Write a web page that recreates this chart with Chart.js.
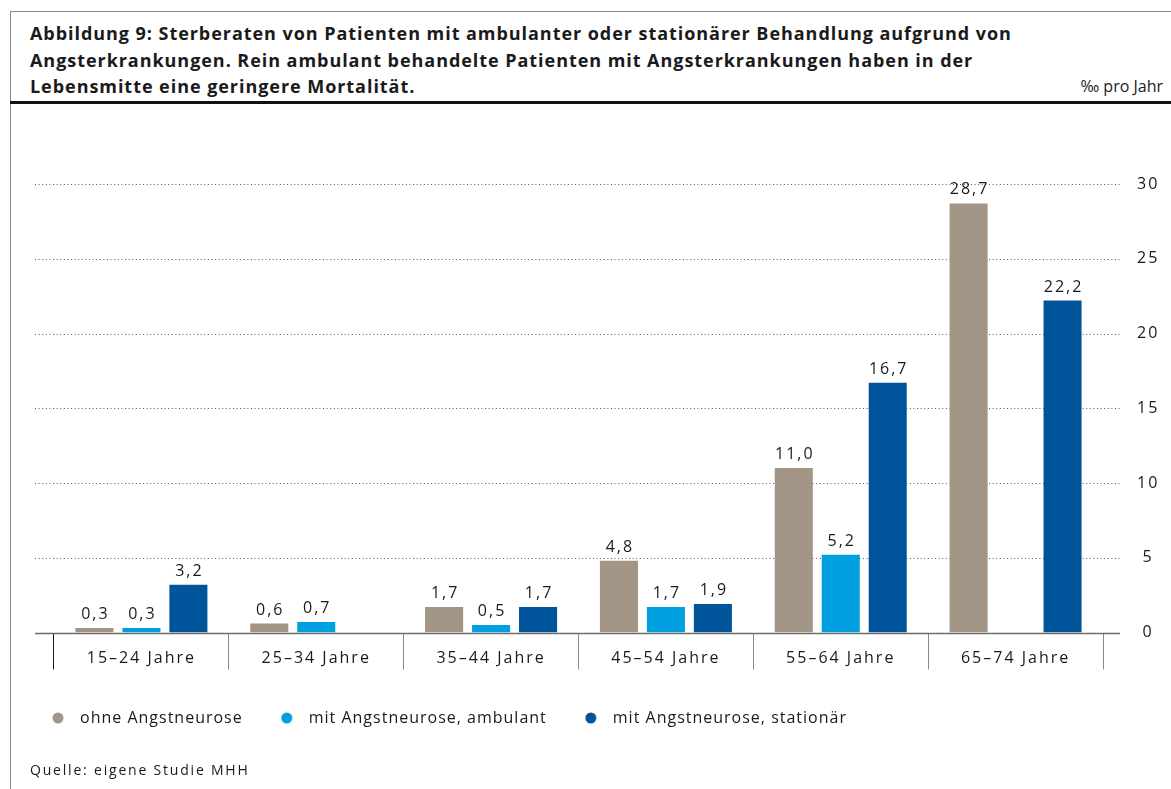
<!DOCTYPE html>
<html lang="de">
<head>
<meta charset="utf-8">
<script src="https://cdn.jsdelivr.net/npm/chart.js@4.4.1/dist/chart.umd.min.js"></script>
<style>
    html, body { margin: 0; padding: 0; background: #fff; }
    #seite { position: relative; width: 1171px; height: 789px; overflow: hidden; font-family: "Open Sans", sans-serif; color: #1a1a1a; }
    #rahmenOben { position: absolute; left: 10px; top: 11px; width: 1161px; height: 0; border-top: 1.5px solid #8a8a8a; }
    #rahmenLinks { position: absolute; left: 10px; top: 11px; width: 0; height: 778px; border-left: 1.5px solid #8a8a8a; }
    #titel { position: absolute; left: 30px; top: 20px; font-weight: bold; font-size: 18px; letter-spacing: 0.95px; line-height: 26.5px; white-space: nowrap; }
    #einheit { position: absolute; right: 8px; top: 73px; font-size: 16px; line-height: 26px; }
    #linie { position: absolute; left: 10px; top: 101px; width: 1161px; height: 3px; background: #111; }
    #grafik { position: absolute; left: 0; top: 105px; }
    #quelle { position: absolute; left: 30px; top: 760px; font-size: 14px; line-height: 20px; letter-spacing: 1.8px; }
</style>
</head>
<body>
<div id="seite">
    <div id="rahmenOben"></div>
    <div id="rahmenLinks"></div>
    <div id="titel">Abbildung 9: Sterberaten von Patienten mit ambulanter oder stationärer Behandlung aufgrund von<br>Angsterkrankungen. Rein ambulant behandelte Patienten mit Angsterkrankungen haben in der<br>Lebensmitte eine geringere Mortalität.</div>
    <div id="einheit">‰ pro Jahr</div>
    <div id="linie"></div>
    <canvas id="grafik" width="1171" height="684"></canvas>
    <div id="quelle">Quelle: eigene Studie MHH</div>
</div>
<script>
// Altersgruppen und Sterberaten (‰ pro Jahr)
const altersgruppen = ['15–24 Jahre', '25–34 Jahre', '35–44 Jahre', '45–54 Jahre', '55–64 Jahre', '65–74 Jahre'];
const ohneAngst = [0.3, 0.6, 1.7, 4.8, 11.0, 28.7];
const ambulant = [0.3, 0.7, 0.5, 1.7, 5.2, null];
const stationaer = [3.2, null, 1.7, 1.9, 16.7, 22.2];
const yTicks = [0, 5, 10, 15, 20, 25, 30];

const farben = ['#a39586', '#009fe0', '#00559a'];

// Punkt für die Legende, etwas nach links versetzt
function legendenPunkt(farbe) {
    const c = document.createElement('canvas');
    c.width = 24;
    c.height = 12;
    const g = c.getContext('2d');
    g.fillStyle = farbe;
    g.beginPath();
    g.arc(6, 6, 5.5, 0, Math.PI * 2);
    g.fill();
    return c;
}

const schrift = "'Open Sans', sans-serif";

// Gepunktete Hilfslinien, etwas breiter als die Zeichenfläche
const hilfslinien = {
    id: 'hilfslinien',
    beforeDatasetsDraw(chart) {
        const { ctx, chartArea, scales } = chart;
        ctx.save();
        yTicks.forEach(v => {
            const y = Math.round(scales.y.getPixelForValue(v)) + 0.5;
            ctx.beginPath();
            if (v === 0) {
                ctx.setLineDash([]);
                ctx.strokeStyle = '#6b6b6b';
                ctx.lineWidth = 1.5;
            } else {
                ctx.setLineDash([1, 2.6]);
                ctx.strokeStyle = '#555';
                ctx.lineWidth = 1;
            }
            ctx.moveTo(chartArea.left - 19, y);
            ctx.lineTo(chartArea.right + 17, y);
            ctx.stroke();
        });
        ctx.restore();
    }
};

// Werte über den Balken
const werte = {
    id: 'werte',
    afterDatasetsDraw(chart) {
        const ctx = chart.ctx;
        ctx.save();
        ctx.font = '16px ' + schrift;
        ctx.fillStyle = '#1a1a1a';
        ctx.textAlign = 'center';
        ctx.textBaseline = 'alphabetic';
        ctx.letterSpacing = '2px';
        chart.data.datasets.forEach((ds, i) => {
            chart.getDatasetMeta(i).data.forEach((bar, j) => {
                const v = ds.data[j];
                if (v == null) return;
                ctx.fillText(v.toFixed(1).replace('.', ','), bar.x + 1, bar.y - 9);
            });
        });
        ctx.restore();
    }
};

// Gesperrte Schrift für Achsen, leicht gesperrte für die Legende
const sperrung = {
    id: 'sperrung',
    afterInit(chart) {
        const legend = chart.legend;
        const zeichne = legend.draw.bind(legend);
        legend.draw = function (area) {
            chart.ctx.save();
            chart.ctx.letterSpacing = '1px';
            zeichne(area);
            chart.ctx.restore();
        };
    },
    beforeLayout(chart) {
        chart.ctx.letterSpacing = '1px';
    },
    beforeDraw(chart) {
        chart.ctx.letterSpacing = '2px';
    }
};

const ctx = document.getElementById('grafik').getContext('2d');
new Chart(ctx, {
    type: 'bar',
    data: {
        labels: altersgruppen,
        datasets: [
            { label: 'ohne Angstneurose', data: ohneAngst, backgroundColor: farben[0], pointStyle: legendenPunkt(farben[0]) },
            { label: 'mit Angstneurose, ambulant', data: ambulant, backgroundColor: farben[1], pointStyle: legendenPunkt(farben[1]) },
            { label: 'mit Angstneurose, stationär', data: stationaer, backgroundColor: farben[2], pointStyle: legendenPunkt(farben[2]) }
        ]
    },
    options: {
        responsive: false,
        animation: false,
        devicePixelRatio: 1,
        categoryPercentage: 0.806,
        barPercentage: 0.81,
        layout: { padding: { left: 14, right: 0, top: 79, bottom: 53 } },
        scales: {
            x: {
                offset: true,
                grid: {
                    offset: true,
                    drawOnChartArea: false,
                    tickLength: 37,
                    lineWidth: 1,
                    color: c => (c.index === 0 || c.index === altersgruppen.length) ? '#1a1a1a' : '#8a8a8a'
                },
                border: { display: false },
                ticks: { padding: -21, color: '#1a1a1a', font: { family: schrift, size: 16 } },
                afterFit(s) { s.height = 35.5; }
            },
            y: {
                position: 'right',
                min: 0,
                max: 30,
                grid: { display: false },
                border: { display: false },
                ticks: { stepSize: 5, padding: 27, crossAlign: 'center', color: '#1a1a1a', font: { family: schrift, size: 16 } },
                afterFit(s) { s.width = 68; }
            },
            rand: {
                type: 'linear',
                position: 'left',
                grid: { display: false },
                border: { display: false },
                ticks: { display: false },
                afterFit(s) { s.width = 40; }
            }
        },
        plugins: {
            legend: {
                position: 'bottom',
                align: 'start',
                labels: {
                    usePointStyle: true,
                    boxWidth: 16,
                    padding: 42,
                    color: '#1a1a1a',
                    font: { family: schrift, size: 16 }
                }
            },
            tooltip: { enabled: false }
        }
    },
    plugins: [hilfslinien, werte, sperrung]
});
</script>
</body>
</html>
